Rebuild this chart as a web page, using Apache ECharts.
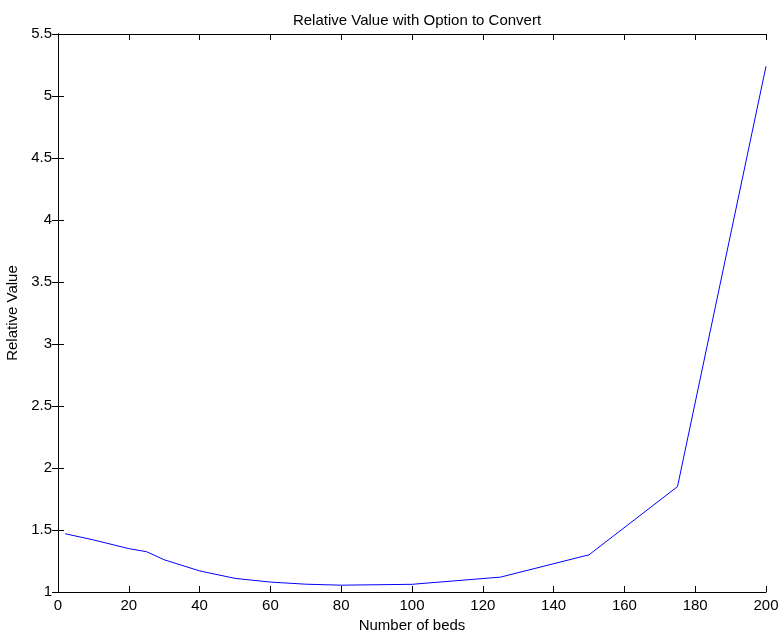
<!DOCTYPE html>
<html>
<head>
<meta charset="utf-8">
<script src="https://cdn.jsdelivr.net/npm/echarts@6/dist/echarts.min.js"></script>
<style>
  html, body { margin: 0; padding: 0; background: #fff; }
  #chart { width: 779px; height: 637px; }
</style>
</head>
<body>
<div id="chart"></div>
<script>
// data
var beds = [2, 10, 20, 25, 30, 40, 50, 60, 70, 80, 100, 125, 150, 175, 200];
var relValue = [1.47, 1.42, 1.35, 1.325, 1.26, 1.17, 1.11, 1.08, 1.063, 1.055, 1.062, 1.12, 1.30, 1.85, 5.24];

var myChart = echarts.init(document.getElementById('chart'));
var font = 'Liberation Sans, Arial, sans-serif';

var axisLine = { show: true, lineStyle: { color: '#000', width: 1 } };
var tick = { show: true, inside: true, length: 6, lineStyle: { color: '#000' } };

myChart.setOption({
  animation: false,
  title: {
    text: 'Relative Value with Option to Convert',
    left: 412,
    textAlign: 'center',
    top: 8,
    textStyle: { fontFamily: font, fontSize: 15, fontWeight: 'normal', color: '#000' }
  },
  grid: { left: 58, right: 13, top: 34, bottom: 45, containLabel: false, outerBoundsMode: 'none' },
  xAxis: [
    {
      type: 'value', min: 0, max: 200, interval: 20,
      name: 'Number of beds', nameLocation: 'middle', nameGap: 24,
      nameTextStyle: { fontFamily: font, fontSize: 15, color: '#000' },
      axisLine: axisLine, axisTick: tick, splitLine: { show: false },
      axisLabel: { fontFamily: font, fontSize: 15, color: '#000', margin: 6 }
    },
    {
      type: 'value', position: 'top', min: 0, max: 200, interval: 20,
      axisLine: axisLine, axisTick: tick, splitLine: { show: false },
      axisLabel: { show: false }
    }
  ],
  yAxis: [
    {
      type: 'value', min: 1, max: 5.5, interval: 0.5,
      name: 'Relative Value', nameLocation: 'middle', nameGap: 30,
      nameTextStyle: { fontFamily: font, fontSize: 15, color: '#000' },
      axisLine: axisLine, axisTick: tick, splitLine: { show: false },
      axisLabel: { fontFamily: font, fontSize: 15, color: '#000', margin: 6 }
    },
    {
      type: 'value', position: 'right', min: 1, max: 5.5, interval: 0.5,
      axisLine: axisLine, axisTick: tick, splitLine: { show: false },
      axisLabel: { show: false }
    }
  ],
  series: [
    {
      type: 'line',
      data: beds.map(function (b, i) { return [b, relValue[i]]; }),
      showSymbol: false,
      lineStyle: { color: '#0000ff', width: 1 },
      itemStyle: { color: '#0000ff' }
    }
  ]
});
</script>
</body>
</html>
